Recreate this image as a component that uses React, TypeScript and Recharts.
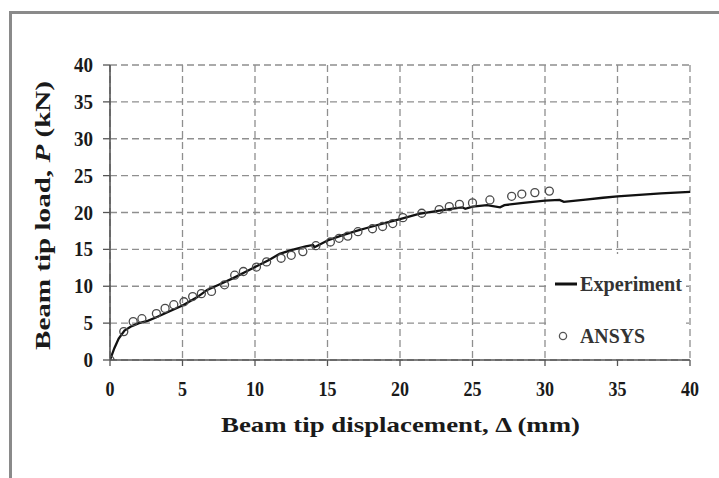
import React from "react";
import {
  ComposedChart,
  Line,
  Scatter,
  XAxis,
  YAxis,
  CartesianGrid,
} from "recharts";

// Experiment curve (displacement mm, load kN)
const expDisp = [0, 0.3, 0.6, 1.0, 1.5, 2.0, 2.6, 3.2, 4.0, 5.0, 6.0, 6.7, 7.5, 8.5, 9.5, 10.0, 11.0, 11.7, 12.5, 13.5, 14.0, 14.1, 15.0, 16.0, 17.0, 17.7, 19.0, 20.0, 21.3, 22.5, 23.5, 24.3, 24.5, 25.0, 26.0, 26.9, 27.2, 28.5, 30.0, 31.0, 31.3, 32.8, 34.0, 35.0, 36.5, 38.0, 40.0];
const expLoad = [0, 1.6, 2.9, 4.0, 4.6, 5.0, 5.3, 5.8, 6.5, 7.4, 8.5, 9.5, 10.2, 11.1, 12.1, 12.6, 13.6, 14.4, 14.9, 15.4, 15.6, 15.3, 16.2, 16.9, 17.5, 17.9, 18.6, 19.1, 19.8, 20.2, 20.5, 20.7, 20.5, 20.8, 21.0, 20.7, 21.0, 21.3, 21.6, 21.7, 21.45, 21.75, 22.0, 22.2, 22.4, 22.6, 22.8];

// ANSYS points
const ansysDisp = [0, 0.95, 1.6, 2.2, 3.2, 3.8, 4.4, 5.1, 5.7, 6.3, 7.0, 7.9, 8.6, 9.2, 10.1, 10.8, 11.8, 12.5, 13.3, 14.2, 15.2, 15.8, 16.4, 17.1, 18.1, 18.8, 19.5, 20.2, 21.5, 22.7, 23.4, 24.1, 25.0, 26.2, 27.7, 28.4, 29.3, 30.3];
const ansysLoad = [0, 3.85, 5.2, 5.6, 6.3, 7.0, 7.5, 7.9, 8.6, 9.0, 9.3, 10.2, 11.5, 12.0, 12.6, 13.3, 13.8, 14.2, 14.7, 15.5, 16.0, 16.5, 16.8, 17.4, 17.8, 18.1, 18.5, 19.3, 19.9, 20.4, 20.8, 21.1, 21.3, 21.7, 22.2, 22.5, 22.7, 22.9];

const xTicks = [0, 5, 10, 15, 20, 25, 30, 35, 40];
const yTicks = [0, 5, 10, 15, 20, 25, 30, 35, 40];

const xLabel = "Beam tip displacement, \u0394 (mm)";
const yLabelMain = "Beam tip load, ";
const yLabelItalic = "P";
const yLabelUnit = "  (kN)";
const seriesNames = ["Experiment", "ANSYS"];

const expData = expDisp.map((x, i) => ({ x, y: expLoad[i] }));
const ansysData = ansysDisp.map((x, i) => ({ x, y: ansysLoad[i] }));

const FONT = "'Liberation Serif', 'Times New Roman', serif";

const XTick = (props: any) => {
  const { x, y, payload } = props;
  const s = String(payload.value);
  return (
    <text
      x={x}
      y={y + 14}
      textAnchor="middle"
      fontFamily={FONT}
      fontWeight="bold"
      fontSize={21}
      fill="#1a1a1a"
      textLength={s.length * 9}
      lengthAdjust="spacingAndGlyphs"
    >
      {s}
    </text>
  );
};

const YTick = (props: any) => {
  const { x, y, payload } = props;
  const s = String(payload.value);
  return (
    <text
      x={x}
      y={y + 7}
      textAnchor="end"
      fontFamily={FONT}
      fontWeight="bold"
      fontSize={21}
      fill="#1a1a1a"
      textLength={s.length * 9.5}
      lengthAdjust="spacingAndGlyphs"
    >
      {s}
    </text>
  );
};

const Circle = (props: any) => {
  const { cx, cy } = props;
  if (cx == null || cy == null) return null;
  return <circle cx={cx} cy={cy} r={4} fill="none" stroke="#4a4a4a" strokeWidth={1.3} />;
};

const LegendBox = () => (
  <svg width={138} height={104} style={{ display: "block" }}>
    <line x1={7} y1={30} x2={29} y2={30} stroke="#111" strokeWidth={3} />
    <text
      x={32}
      y={36.5}
      fontFamily={FONT}
      fontWeight="bold"
      fontSize={20}
      fill="#333"
      textLength={102}
      lengthAdjust="spacingAndGlyphs"
    >
      {seriesNames[0]}
    </text>
    <circle cx={15} cy={82} r={3.6} fill="none" stroke="#555" strokeWidth={1.3} />
    <text
      x={32}
      y={89}
      fontFamily={FONT}
      fontWeight="bold"
      fontSize={20}
      fill="#333"
      textLength={65}
      lengthAdjust="spacingAndGlyphs"
    >
      {seriesNames[1]}
    </text>
  </svg>
);

export default function App() {
  return (
    <div
      style={{
        position: "absolute",
        left: 0,
        top: 0,
        width: 719,
        height: 478,
        background: "#fff",
        overflow: "hidden",
      }}
    >
      <div
        style={{
          position: "absolute",
          left: 9,
          top: 11,
          width: 720,
          height: 480,
          borderLeft: "3px solid #8a8a8a",
          borderTop: "3px solid #8a8a8a",
          boxSizing: "border-box",
        }}
      />
      <div style={{ position: "absolute", left: 0, top: 0 }}>
        <ComposedChart
          width={719}
          height={478}
          margin={{ top: 65, right: 29, left: 10, bottom: 58 }}
        >
          <CartesianGrid
            stroke="#8f8f8f"
            strokeWidth={1.3}
            strokeDasharray="7 4"
            horizontal
            vertical
          />
          <XAxis
            type="number"
            dataKey="x"
            domain={[0, 40]}
            ticks={xTicks}
            interval={0}
            allowDataOverflow
            height={60}
            tick={<XTick />}
            tickSize={6}
            tickMargin={16}
            axisLine={{ stroke: "#555", strokeWidth: 1.6 }}
            tickLine={{ stroke: "#555", strokeWidth: 1.3 }}
            label={{
              content: () => (
                <text
                  x={400.5}
                  y={432}
                  textAnchor="middle"
                  fontFamily={FONT}
                  fontWeight="bold"
                  fontSize={22}
                  fill="#1a1a1a"
                  textLength={359}
                  lengthAdjust="spacingAndGlyphs"
                >
                  {xLabel}
                </text>
              ),
            }}
          />
          <YAxis
            type="number"
            dataKey="y"
            domain={[0, 40]}
            ticks={yTicks}
            interval={0}
            allowDataOverflow
            width={100}
            tick={<YTick />}
            tickSize={7}
            tickMargin={10}
            axisLine={{ stroke: "#555", strokeWidth: 1.6 }}
            tickLine={{ stroke: "#555", strokeWidth: 1.3 }}
            label={{
              content: () => (
                <text
                  transform="translate(50,215.5) rotate(-90)"
                  x={0}
                  y={0}
                  textAnchor="middle"
                  fontFamily={FONT}
                  fontWeight="bold"
                  fontSize={22}
                  fill="#1a1a1a"
                  textLength={269}
                  lengthAdjust="spacingAndGlyphs"
                >
                  {yLabelMain}
                  <tspan fontStyle="italic">{yLabelItalic}</tspan>
                  {yLabelUnit}
                </text>
              ),
            }}
          />
          <Scatter
            name={seriesNames[1]}
            data={ansysData}
            dataKey="y"
            shape={Circle}
            isAnimationActive={false}
          />
          <Line
            name={seriesNames[0]}
            data={expData}
            dataKey="y"
            type="linear"
            stroke="#111"
            strokeWidth={2.3}
            dot={false}
            activeDot={false}
            isAnimationActive={false}
          />
        </ComposedChart>
      </div>
      <div
        style={{
          position: "absolute",
          left: 548,
          top: 254,
          width: 138,
          height: 104,
          background: "#fff",
        }}
      >
        <LegendBox />
      </div>
    </div>
  );
}
